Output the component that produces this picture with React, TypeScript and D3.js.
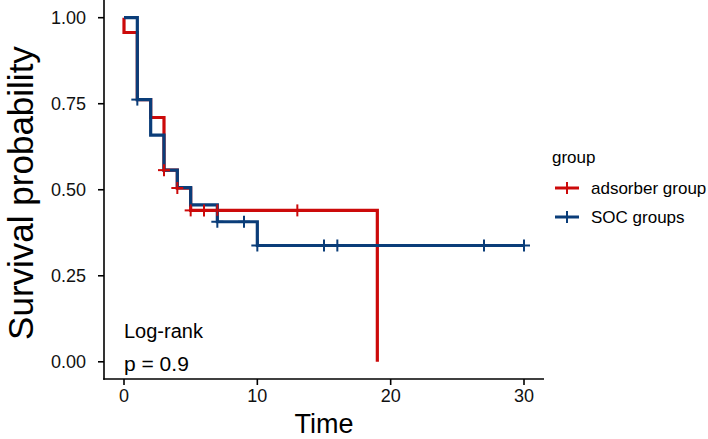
import { useMemo } from "react";
import * as d3 from "d3";

// Kaplan-Meier steps
const groups = ["adsorber group", "SOC groups"];
const colors = ["#CC0A0A", "#0A3D79"];

const adsorberTime = [0, 0, 1, 2, 3, 4, 5, 19];
const adsorberSurv = [1.0, 0.957, 0.762, 0.71, 0.557, 0.505, 0.44, 0.0];
const adsorberCensor = [3, 4, 5, 6, 7, 13];

const socTime = [0, 1, 2, 3, 4, 5, 7, 10, 30];
const socSurv = [1.0, 0.762, 0.659, 0.557, 0.506, 0.456, 0.407, 0.338, 0.338];
const socCensor = [1, 7, 9, 10, 15, 16, 27, 30];

const xTicks = [0, 10, 20, 30];
const yTicks = [0, 0.25, 0.5, 0.75, 1];

const W = 708;
const H = 439;
const FONT = "'Liberation Sans', Arial, Helvetica, sans-serif";

interface Pt {
    t: number;
    s: number;
}

const App = () => {
    const x = d3.scaleLinear().domain([-1.5, 31.5]).range([104, 544]);
    const y = d3.scaleLinear().domain([-0.05, 1.05]).range([379, 0.5]);

    const series = useMemo(() => {
        const make = (time: number[], surv: number[], cens: number[]) => {
            const pts: Pt[] = time.map((t, i) => ({ t, s: surv[i] }));
            // censor mark sits at the step value at that time
            const marks: Pt[] = cens.map(c => {
                let s = surv[0];
                time.forEach((t, i) => { if (t <= c) s = surv[i]; });
                return { t: c, s };
            });
            return { pts, marks };
        };
        return [
            make(adsorberTime, adsorberSurv, adsorberCensor),
            make(socTime, socSurv, socCensor),
        ];
    }, []);

    const line = d3.line<Pt>()
        .x(d => x(d.t))
        .y(d => y(d.s))
        .curve(d3.curveStepAfter);

    const half = 6;

    return (
        <div style={{ position: "absolute", left: 0, top: 0 }}>
            <svg width={W} height={H} style={{ display: "block", background: "#fff" }} fontFamily={FONT}>
                {/* step lines: red first, blue over it */}
                {series.map((g, i) => (
                    <path key={"l" + i} d={line(g.pts) ?? ""} fill="none" stroke={colors[i]} strokeWidth={3.2} />
                ))}
                {/* censor marks on top */}
                {series.map((g, i) => (
                    <g key={"c" + i} stroke={colors[i]} strokeWidth={2}>
                        {g.marks.map((m, j) => (
                            <g key={j} transform={`translate(${x(m.t)},${y(m.s)})`}>
                                <line x1={-half} x2={half} y1={0} y2={0} />
                                <line x1={0} x2={0} y1={-half} y2={half} />
                            </g>
                        ))}
                    </g>
                ))}

                {/* axes */}
                <g stroke="#000" strokeWidth={1.6}>
                    <line x1={104} x2={104} y1={0} y2={379.8} />
                    <line x1={103.2} x2={544} y1={379} y2={379} />
                    {yTicks.map(v => (
                        <line key={v} x1={98} x2={104} y1={y(v)} y2={y(v)} />
                    ))}
                    {xTicks.map(v => (
                        <line key={v} x1={x(v)} x2={x(v)} y1={379} y2={385} />
                    ))}
                </g>
                {yTicks.map(v => (
                    <text key={v} x={86} y={y(v)} dy="0.36em" textAnchor="end" fontSize={18} fill="#111">
                        {v.toFixed(2)}
                    </text>
                ))}
                {xTicks.map(v => (
                    <text key={v} x={x(v)} y={402} textAnchor="middle" fontSize={18} fill="#111">
                        {v}
                    </text>
                ))}

                {/* axis titles */}
                <text x={324} y={433} textAnchor="middle" fontSize={27}>Time</text>
                <text transform="translate(33,193) rotate(-90)" textAnchor="middle" fontSize={35}>
                    Survival probability
                </text>

                {/* log-rank annotation */}
                <text x={124} y={338} fontSize={20}>Log-rank</text>
                <text x={124} y={371} fontSize={21}>p = 0.9</text>

                {/* legend */}
                <text x={552} y={163} fontSize={17}>group</text>
                {groups.map((name, i) => {
                    const cy = 188 + i * 29;
                    return (
                        <g key={name}>
                            <g stroke={colors[i]}>
                                <line x1={555} x2={579} y1={cy} y2={cy} strokeWidth={3} />
                                <line x1={567} x2={567} y1={cy - 6} y2={cy + 6} strokeWidth={2} />
                            </g>
                            <text x={591} y={cy} dy="0.36em" fontSize={17}>{name}</text>
                        </g>
                    );
                })}
            </svg>
        </div>
    );
};

export default App;
